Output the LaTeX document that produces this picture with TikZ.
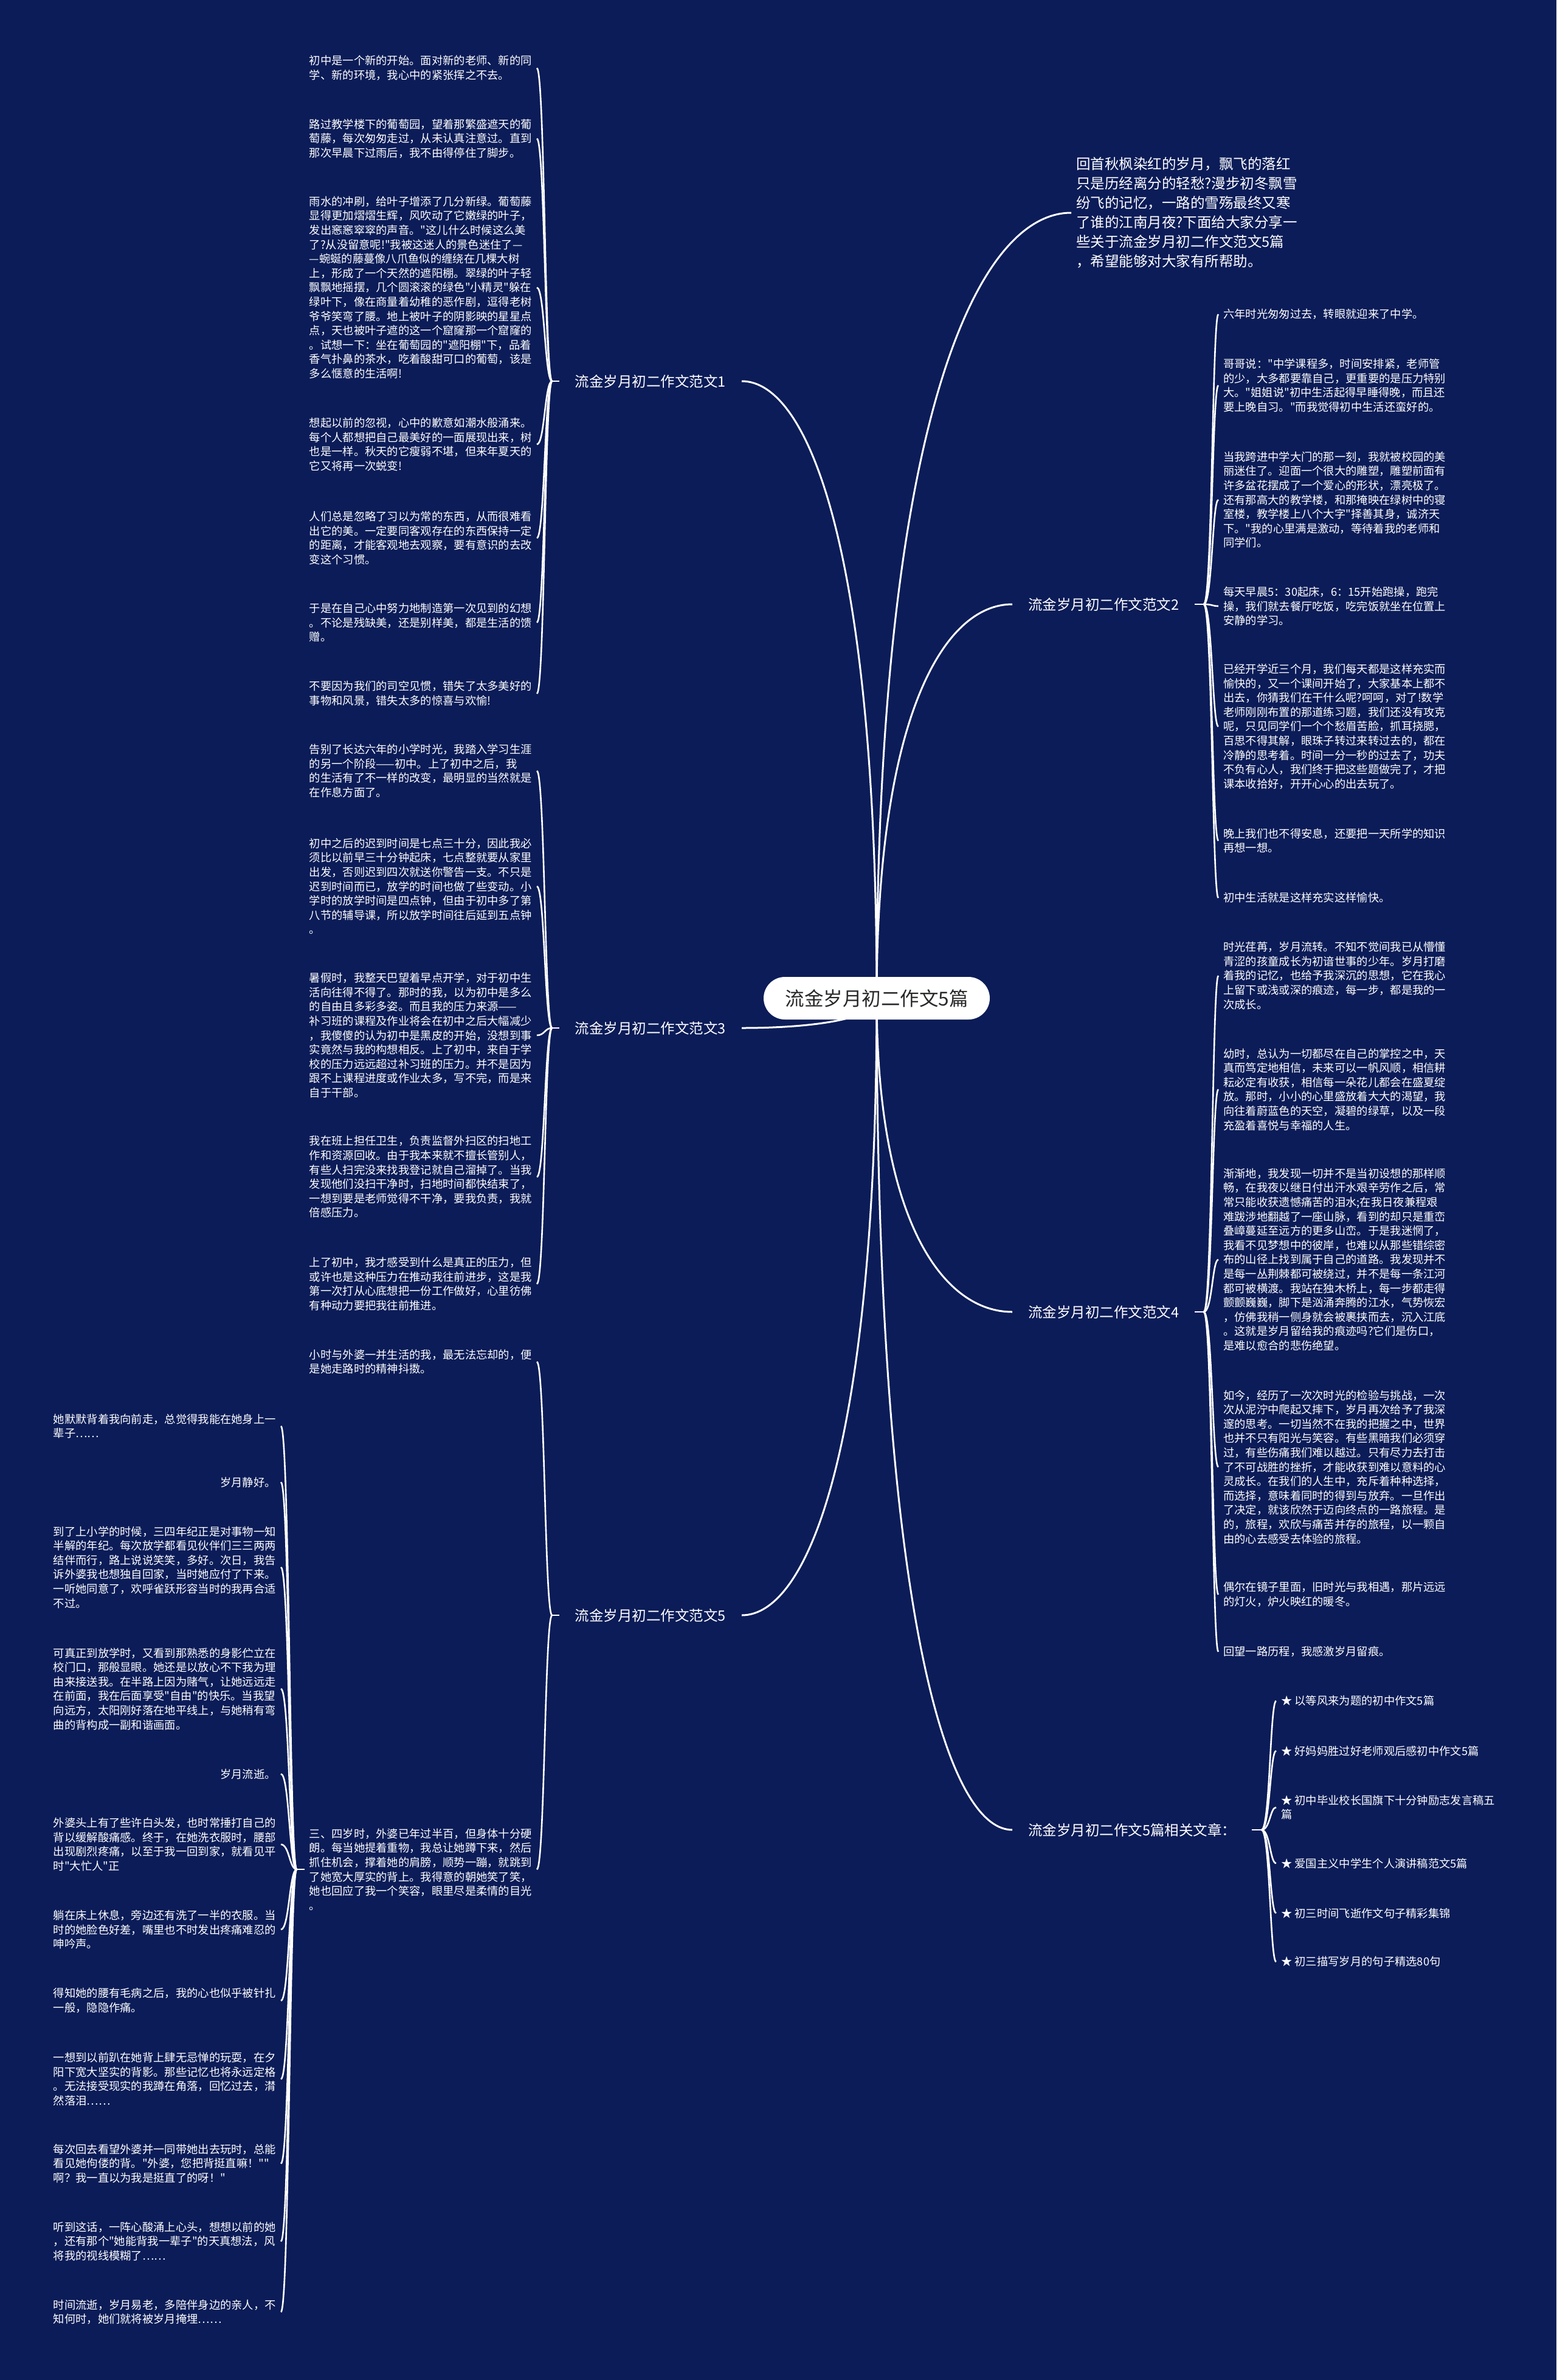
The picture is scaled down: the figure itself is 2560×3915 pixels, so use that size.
\documentclass[tikz,border=0pt]{standalone}
\usepackage{fontspec}
\newfontfamily\cjk{Noto Sans CJK SC}
\usetikzlibrary{calc}
\definecolor{bgnavy}{RGB}{11,28,88}
\definecolor{ctrtext}{RGB}{40,40,40}
\pgfdeclarelayer{bg}
\pgfsetlayers{bg,main}
\tikzset{
 txt/.style={font=\cjk\fontsize{18.3}{23.6}\selectfont, text=white, align=left, inner xsep=8pt, inner ysep=2pt},
 lbl/.style={font=\cjk\fontsize{23.5}{28}\selectfont, text=white, inner xsep=26pt, inner ysep=4pt},
 introtxt/.style={font=\cjk\fontsize{23.5}{32}\selectfont, text=white, align=left, inner xsep=8pt},
 root/.style={fill=white, rounded corners=35pt, minimum width=372pt, minimum height=70pt, font=\cjk\fontsize{31.5}{36}\selectfont, text=ctrtext, inner sep=0pt},
 trunk/.style={to path={.. controls ($(\tikztostart)!0.72!(\tikztostart |- \tikztotarget)$) and ($(\tikztotarget)!0.5!(\tikztostart |- \tikztotarget)$) .. (\tikztotarget)}},
 lbr/.style={to path={.. controls ($(\tikztostart)+(-12,0)$) and ($(\tikztostart |- \tikztotarget)+(-12,0)$) .. (\tikztotarget)}},
 rbr/.style={to path={.. controls ($(\tikztostart)+(14,0)$) and ($(\tikztostart |- \tikztotarget)+(14,0)$) .. (\tikztotarget)}},
 wire/.style={draw=white, line width=3pt},
 twig/.style={draw=white, line width=2.6pt},
}
\begin{document}
\begin{tikzpicture}[x=1pt,y=-1pt]
\useasboundingbox (0,0) rectangle (2560,3915);

% root
\node[root] (root) at (1442,1642) {流金岁月初二作文5篇};

% intro
\node[introtxt, anchor=west] (intro) at (1762,350) {回首秋枫染红的岁月，飘飞的落红\\只是历经离分的轻愁?漫步初冬飘雪\\纷飞的记忆，一路的雪殇最终又寒\\了谁的江南月夜?下面给大家分享一\\些关于流金岁月初二作文范文5篇\\，希望能够对大家有所帮助。};

% branch labels
\node[lbl, anchor=east] (L1) at (1220,627) {流金岁月初二作文范文1};
\node[lbl, anchor=east] (L3) at (1220,1691) {流金岁月初二作文范文3};
\node[lbl, anchor=east] (L5) at (1220,2657) {流金岁月初二作文范文5};
\node[lbl, anchor=west] (R2) at (1665,994) {流金岁月初二作文范文2};
\node[lbl, anchor=west] (R4) at (1665,2158) {流金岁月初二作文范文4};
\node[lbl, anchor=west] (RR) at (1665,3010) {流金岁月初二作文5篇相关文章：};

% hubs
\coordinate (h1) at (908,627);
\coordinate (h3) at (908,1691);
\coordinate (h5) at (908,2657);
\coordinate (hf) at (488,3075);
\coordinate (h2) at (1980,994);
\coordinate (h4) at (1980,2158);
\coordinate (hs) at (2075,3010);

% branch 1
\node[txt, anchor=east] (b11) at (883,112) {初中是一个新的开始。面对新的老师、新的同\\学、新的环境，我心中的紧张挥之不去。};
\node[txt, anchor=east] (b12) at (883,228) {路过教学楼下的葡萄园，望着那繁盛遮天的葡\\萄藤，每次匆匆走过，从未认真注意过。直到\\那次早晨下过雨后，我不由得停住了脚步。};
\node[txt, anchor=east] (b13) at (883,473) {雨水的冲刷，给叶子增添了几分新绿。葡萄藤\\显得更加熠熠生辉，风吹动了它嫩绿的叶子，\\发出窸窸窣窣的声音。"这儿什么时候这么美\\了?从没留意呢!"我被这迷人的景色迷住了—\\—蜿蜒的藤蔓像八爪鱼似的缠绕在几棵大树\\上，形成了一个天然的遮阳棚。翠绿的叶子轻\\飘飘地摇摆，几个圆滚滚的绿色"小精灵"躲在\\绿叶下，像在商量着幼稚的恶作剧，逗得老树\\爷爷笑弯了腰。地上被叶子的阴影映的星星点\\点，天也被叶子遮的这一个窟窿那一个窟窿的\\。试想一下：坐在葡萄园的"遮阳棚"下，品着\\香气扑鼻的茶水，吃着酸甜可口的葡萄，该是\\多么惬意的生活啊!};
\node[txt, anchor=east] (b14) at (883,731) {想起以前的忽视，心中的歉意如潮水般涌来。\\每个人都想把自己最美好的一面展现出来，树\\也是一样。秋天的它瘦弱不堪，但来年夏天的\\它又将再一次蜕变!};
\node[txt, anchor=east] (b15) at (883,885) {人们总是忽略了习以为常的东西，从而很难看\\出它的美。一定要同客观存在的东西保持一定\\的距离，才能客观地去观察，要有意识的去改\\变这个习惯。};
\node[txt, anchor=east] (b16) at (883,1024) {于是在自己心中努力地制造第一次见到的幻想\\。不论是残缺美，还是别样美，都是生活的馈\\赠。};
\node[txt, anchor=east] (b17) at (883,1141) {不要因为我们的司空见惯，错失了太多美好的\\事物和风景，错失太多的惊喜与欢愉!};

% branch 3
\node[txt, anchor=east] (b31) at (883,1268) {告别了长达六年的小学时光，我踏入学习生涯\\的另一个阶段——初中。上了初中之后，我\\的生活有了不一样的改变，最明显的当然就是\\在作息方面了。};
\node[txt, anchor=east] (b32) at (883,1458) {初中之后的迟到时间是七点三十分，因此我必\\须比以前早三十分钟起床，七点整就要从家里\\出发，否则迟到四次就送你警告一支。不只是\\迟到时间而已，放学的时间也做了些变动。小\\学时的放学时间是四点钟，但由于初中多了第\\八节的辅导课，所以放学时间往后延到五点钟\\。};
\node[txt, anchor=east] (b33) at (883,1703) {暑假时，我整天巴望着早点开学，对于初中生\\活向往得不得了。那时的我，以为初中是多么\\的自由且多彩多姿。而且我的压力来源——\\补习班的课程及作业将会在初中之后大幅减少\\，我傻傻的认为初中是黑皮的开始，没想到事\\实竟然与我的构想相反。上了初中，来自于学\\校的压力远远超过补习班的压力。并不是因为\\跟不上课程进度或作业太多，写不完，而是来\\自于干部。};
\node[txt, anchor=east] (b34) at (883,1936) {我在班上担任卫生，负责监督外扫区的扫地工\\作和资源回收。由于我本来就不擅长管别人，\\有些人扫完没来找我登记就自己溜掉了。当我\\发现他们没扫干净时，扫地时间都快结束了，\\一想到要是老师觉得不干净，要我负责，我就\\倍感压力。};
\node[txt, anchor=east] (b35) at (883,2112) {上了初中，我才感受到什么是真正的压力，但\\或许也是这种压力在推动我往前进步，这是我\\第一次打从心底想把一份工作做好，心里彷佛\\有种动力要把我往前推进。};

% branch 5
\node[txt, anchor=east] (b51) at (883,2240) {小时与外婆一并生活的我，最无法忘却的，便\\是她走路时的精神抖擞。};
\node[txt, anchor=east] (b52) at (883,3075) {三、四岁时，外婆已年过半百，但身体十分硬\\朗。每当她提着重物，我总让她蹲下来，然后\\抓住机会，撑着她的肩膀，顺势一蹦，就跳到\\了她宽大厚实的背上。我得意的朝她笑了笑，\\她也回应了我一个笑容，眼里尽是柔情的目光\\。};

% far left
\node[txt, anchor=east] (f1) at (462,2346) {她默默背着我向前走，总觉得我能在她身上一\\辈子……};
\node[txt, anchor=east] (f2) at (462,2438) {岁月静好。};
\node[txt, anchor=east] (f3) at (462,2578) {到了上小学的时候，三四年纪正是对事物一知\\半解的年纪。每次放学都看见伙伴们三三两两\\结伴而行，路上说说笑笑，多好。次日，我告\\诉外婆我也想独自回家，当时她应付了下来。\\一听她同意了，欢呼雀跃形容当时的我再合适\\不过。};
\node[txt, anchor=east] (f4) at (462,2778) {可真正到放学时，又看到那熟悉的身影伫立在\\校门口，那般显眼。她还是以放心不下我为理\\由来接送我。在半路上因为赌气，让她远远走\\在前面，我在后面享受"自由"的快乐。当我望\\向远方，太阳刚好落在地平线上，与她稍有弯\\曲的背构成一副和谐画面。};
\node[txt, anchor=east] (f5) at (462,2918) {岁月流逝。};
\node[txt, anchor=east] (f6) at (462,3034) {外婆头上有了些许白头发，也时常捶打自己的\\背以缓解酸痛感。终于，在她洗衣服时，腰部\\出现剧烈疼痛，以至于我一回到家，就看见平\\时"大忙人"正};
\node[txt, anchor=east] (f7) at (462,3174) {躺在床上休息，旁边还有洗了一半的衣服。当\\时的她脸色好差，嘴里也不时发出疼痛难忍的\\呻吟声。};
\node[txt, anchor=east] (f8) at (462,3291) {得知她的腰有毛病之后，我的心也似乎被针扎\\一般，隐隐作痛。};
\node[txt, anchor=east] (f9) at (462,3420) {一想到以前趴在她背上肆无忌惮的玩耍，在夕\\阳下宽大坚实的背影。那些记忆也将永远定格\\。无法接受现实的我蹲在角落，回忆过去，潸\\然落泪……};
\node[txt, anchor=east] (f10) at (462,3559) {每次回去看望外婆并一同带她出去玩时，总能\\看见她佝偻的背。"外婆，您把背挺直嘛！""\\啊？我一直以为我是挺直了的呀！"};
\node[txt, anchor=east] (f11) at (462,3687) {听到这话，一阵心酸涌上心头，想想以前的她\\，还有那个"她能背我一辈子"的天真想法，风\\将我的视线模糊了……};
\node[txt, anchor=east] (f12) at (462,3803) {时间流逝，岁月易老，多陪伴身边的亲人，不\\知何时，她们就将被岁月掩埋……};

% branch 2
\node[txt, anchor=west] (r21) at (2004,517) {六年时光匆匆过去，转眼就迎来了中学。};
\node[txt, anchor=west] (r22) at (2004,634) {哥哥说："中学课程多，时间安排紧，老师管\\的少，大多都要靠自己，更重要的是压力特别\\大。"姐姐说"初中生活起得早睡得晚，而且还\\要上晚自习。"而我觉得初中生活还蛮好的。};
\node[txt, anchor=west] (r23) at (2004,822) {当我跨进中学大门的那一刻，我就被校园的美\\丽迷住了。迎面一个很大的雕塑，雕塑前面有\\许多盆花摆成了一个爱心的形状，漂亮极了。\\还有那高大的教学楼，和那掩映在绿树中的寝\\室楼，教学楼上八个大字"择善其身，诚济天\\下。"我的心里满是激动，等待着我的老师和\\同学们。};
\node[txt, anchor=west] (r24) at (2004,997) {每天早晨5：30起床，6：15开始跑操，跑完\\操，我们就去餐厅吃饭，吃完饭就坐在位置上\\安静的学习。};
\node[txt, anchor=west] (r25) at (2004,1195) {已经开学近三个月，我们每天都是这样充实而\\愉快的，又一个课间开始了，大家基本上都不\\出去，你猜我们在干什么呢?呵呵，对了!数学\\老师刚刚布置的那道练习题，我们还没有攻克\\呢，只见同学们一个个愁眉苦脸，抓耳挠腮，\\百思不得其解，眼珠子转过来转过去的，都在\\冷静的思考着。时间一分一秒的过去了，功夫\\不负有心人，我们终于把这些题做完了，才把\\课本收拾好，开开心心的出去玩了。};
\node[txt, anchor=west] (r26) at (2004,1383) {晚上我们也不得安息，还要把一天所学的知识\\再想一想。};
\node[txt, anchor=west] (r27) at (2004,1477) {初中生活就是这样充实这样愉快。};

% branch 4
\node[txt, anchor=west] (r41) at (2004,1605) {时光荏苒，岁月流转。不知不觉间我已从懵懂\\青涩的孩童成长为初谙世事的少年。岁月打磨\\着我的记忆，也给予我深沉的思想，它在我心\\上留下或浅或深的痕迹，每一步，都是我的一\\次成长。};
\node[txt, anchor=west] (r42) at (2004,1792) {幼时，总认为一切都尽在自己的掌控之中，天\\真而笃定地相信，未来可以一帆风顺，相信耕\\耘必定有收获，相信每一朵花儿都会在盛夏绽\\放。那时，小小的心里盛放着大大的渴望，我\\向往着蔚蓝色的天空，凝碧的绿草，以及一段\\充盈着喜悦与幸福的人生。};
\node[txt, anchor=west] (r43) at (2004,2072) {渐渐地，我发现一切并不是当初设想的那样顺\\畅，在我夜以继日付出汗水艰辛劳作之后，常\\常只能收获遗憾痛苦的泪水;在我日夜兼程艰\\难跋涉地翻越了一座山脉，看到的却只是重峦\\叠嶂蔓延至远方的更多山峦。于是我迷惘了，\\我看不见梦想中的彼岸，也难以从那些错综密\\布的山径上找到属于自己的道路。我发现并不\\是每一丛荆棘都可被绕过，并不是每一条江河\\都可被横渡。我站在独木桥上，每一步都走得\\颤颤巍巍，脚下是汹涌奔腾的江水，气势恢宏\\，仿佛我稍一侧身就会被裹挟而去，沉入江底\\。这就是岁月留给我的痕迹吗?它们是伤口，\\是难以愈合的悲伤绝望。};
\node[txt, anchor=west] (r44) at (2004,2413) {如今，经历了一次次时光的检验与挑战，一次\\次从泥泞中爬起又摔下，岁月再次给予了我深\\邃的思考。一切当然不在我的把握之中，世界\\也并不只有阳光与笑容。有些黑暗我们必须穿\\过，有些伤痛我们难以越过。只有尽力去打击\\了不可战胜的挫折，才能收获到难以意料的心\\灵成长。在我们的人生中，充斥着种种选择，\\而选择，意味着同时的得到与放弃。一旦作出\\了决定，就该欣然于迈向终点的一路旅程。是\\的，旅程，欢欣与痛苦并存的旅程，以一颗自\\由的心去感受去体验的旅程。};
\node[txt, anchor=west] (r45) at (2004,2623) {偶尔在镜子里面，旧时光与我相遇，那片远远\\的灯火，炉火映红的暖冬。};
\node[txt, anchor=west] (r46) at (2004,2717) {回望一路历程，我感激岁月留痕。};

% related
\node[txt, anchor=west] (s1) at (2099,2798) {★ 以等风来为题的初中作文5篇};
\node[txt, anchor=west] (s2) at (2099,2880) {★ 好妈妈胜过好老师观后感初中作文5篇};
\node[txt, anchor=west] (s3) at (2099,2973) {★ 初中毕业校长国旗下十分钟励志发言稿五\\篇};
\node[txt, anchor=west] (s4) at (2099,3065) {★ 爱国主义中学生个人演讲稿范文5篇};
\node[txt, anchor=west] (s5) at (2099,3147) {★ 初三时间飞逝作文句子精彩集锦};
\node[txt, anchor=west] (s6) at (2099,3227) {★ 初三描写岁月的句子精选80句};

\begin{pgfonlayer}{bg}
 \fill[bgnavy] (0,0) rectangle (2560,3915);
 % trunks
 \draw[wire] (root.center) to[trunk] (intro.west);
 \draw[wire] (root.center) to[trunk] (L1.east);
 \draw[wire] (root.center) to[trunk] (L3.east);
 \draw[wire] (root.center) to[trunk] (L5.east);
 \draw[wire] (root.center) to[trunk] (R2.west);
 \draw[wire] (root.center) to[trunk] (R4.west);
 \draw[wire] (root.center) to[trunk] (RR.west);
 % stubs
 \draw[twig] (L1.west) -- (h1);
 \draw[twig] (L3.west) -- (h3);
 \draw[twig] (L5.west) -- (h5);
 \draw[twig] (b52.west) -- (hf);
 \draw[twig] (R2.east) -- (h2);
 \draw[twig] (R4.east) -- (h4);
 \draw[twig] (RR.east) -- (hs);
 % brackets
 \foreach \n in {b11,b12,b13,b14,b15,b16,b17} \draw[twig] (h1) to[lbr] (\n.east);
 \foreach \n in {b31,b32,b33,b34,b35} \draw[twig] (h3) to[lbr] (\n.east);
 \foreach \n in {b51,b52} \draw[twig] (h5) to[lbr] (\n.east);
 \foreach \n in {f1,f2,f3,f4,f5,f6,f7,f8,f9,f10,f11,f12} \draw[twig] (hf) to[lbr] (\n.east);
 \foreach \n in {r21,r22,r23,r24,r25,r26,r27} \draw[twig] (h2) to[rbr] (\n.west);
 \foreach \n in {r41,r42,r43,r44,r45,r46} \draw[twig] (h4) to[rbr] (\n.west);
 \foreach \n in {s1,s2,s3,s4,s5,s6} \draw[twig] (hs) to[rbr] (\n.west);
\end{pgfonlayer}
\end{tikzpicture}
\end{document}
